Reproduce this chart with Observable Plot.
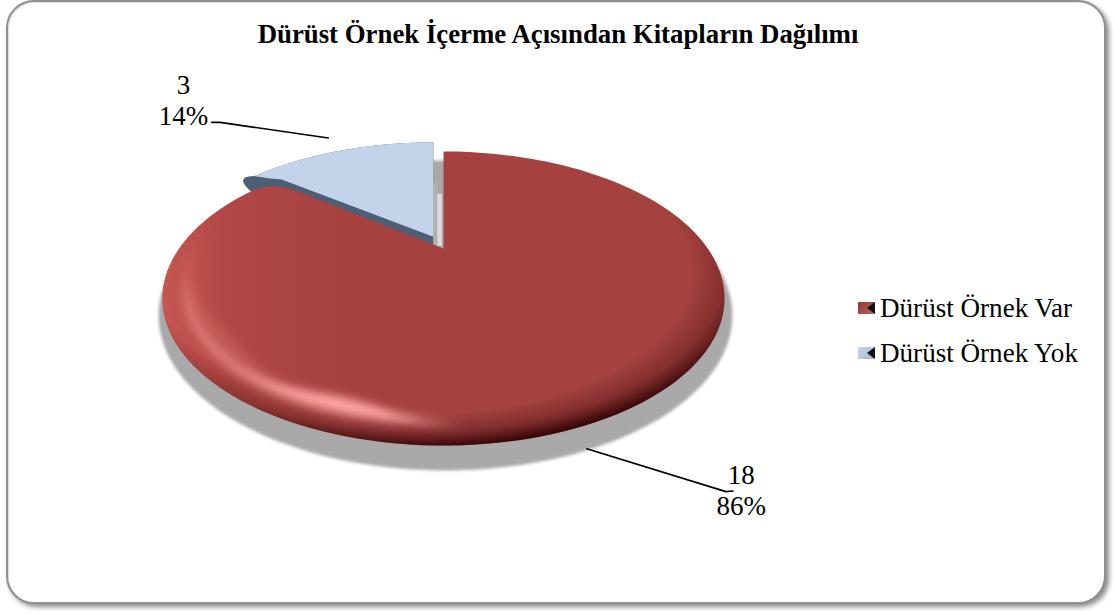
<!DOCTYPE html>
<html lang="tr">
<head>
<meta charset="utf-8">
<script src="https://cdn.jsdelivr.net/npm/d3@7"></script>
<script src="https://cdn.jsdelivr.net/npm/@observablehq/plot@0.6"></script>
<style>
html,body{margin:0;padding:0;background:#fff;font-family:"Liberation Serif",serif;color:#000}
#stage{position:relative;width:1114px;height:614px;overflow:hidden}
#frame{position:absolute;left:6px;top:0;width:1096px;height:600px;border:2px solid #8f8f8f;border-radius:28px;box-shadow:3px 3px 5px #8a8a8a, inset 1px 1px 1px #ddd;background:#fff}
#title{position:absolute;width:1114px;top:19px;text-align:center;font-weight:bold;font-size:26.8px;line-height:30px;left:1px}
#chart{position:absolute;left:0;top:0}
#legend{position:absolute;left:858px;top:292px;font-size:27.1px;line-height:32px}
#legend .row{display:flex;align-items:center;height:32px;margin-bottom:13px;white-space:nowrap}
#legend .sw{width:17px;height:12px;margin-right:5px;position:relative;flex:none}
#legend .sw::after{content:"";position:absolute;right:0;top:0;border-style:solid;border-width:6px 8px 6px 0;border-color:transparent #111 transparent transparent}
</style>
</head>
<body>
<div id="stage">
  <div id="frame"></div>
  <div id="chart"></div>
  <div id="title"></div>
  <div id="legend"></div>
</div>
<script>
const titleText = "Dürüst Örnek İçerme Açısından Kitapların Dağılımı";
const categories = ["Dürüst Örnek Var", "Dürüst Örnek Yok"];
const counts = [18, 3];
const percents = ["86%", "14%"];
const colors = ["#a5423f", "#c3d4ea"];

const total = d3.sum(counts);
const redSweep = 2 * Math.PI * counts[0] / total;
const blueSweep = 2 * Math.PI * counts[1] / total;

// perspective projection of a flat disc onto the chart's unit coordinates
const k = 0.34, flat = Math.sqrt(1 - k * k);
function project(theta, r = 1, dx = 0, dy = 0) {
  const u = r * Math.sin(theta), v = r * Math.cos(theta), w = 1 + k * v;
  return {x: u / w * flat + dx, y: v / w + dy};
}
const arcPts = (a, b, n = 160, r = 1, dx = 0, dy = 0) =>
  d3.range(n + 1).map(i => project(a + (b - a) * i / n, r, dx, dy));
const quad = (s, c, e) => d3.range(1, 16).map(i => {
  const m = i / 16, n = 1 - m;
  return {x: n*n*s.x + 2*n*m*c.x + m*m*e.x, y: n*n*s.y + 2*n*m*c.y + m*m*e.y};
});

// red slice: clockwise from the top, its far edge meets the arc in a soft corner
function redSlice() {
  const delta = 0.12, t = 0.14, apex = {x: 0, y: 0};
  const arc = arcPts(0, redSweep - delta);
  const c = project(redSweep);
  const e = {x: c.x * (1 - t), y: c.y * (1 - t)};
  return [apex, ...arc, ...quad(arc[arc.length - 1], c, e), e, apex];
}
// blue slice, pulled out of the disc; its edge keeps the true angle and eases into the arc
const blueDx = -0.036, blueDy = 0.07, blueLip = 0.05;
const blueCorner = project(-blueSweep, 1, blueDx, blueDy);
const blueArc = arcPts(-blueSweep - blueLip, 0, 160, 1, blueDx, blueDy);
function blueSlice() {
  const apex = {x: blueDx, y: blueDy + 0.02}, t = 0.11;
  const e = {x: blueCorner.x + (apex.x - blueCorner.x) * t, y: blueCorner.y + (apex.y - blueCorner.y) * t};
  const ctrl = {x: blueCorner.x, y: blueCorner.y - 0.04};
  return [apex, e, ...quad(e, ctrl, blueArc[0]), ...blueArc, apex];
}
// dark lip under the blue slice: wraps round the tip, the rest is hidden by the red slice
function blueRim() {
  const apex = {x: blueDx, y: 0};
  const low = {x: blueCorner.x - 0.01, y: blueCorner.y - 0.2};
  const ctrl = {x: blueCorner.x - 0.12, y: blueCorner.y - 0.03};
  return [apex, low, ...quad(low, ctrl, blueArc[0]), ...blueArc, apex];
}

const redPts = redSlice();
const bluePts = blueSlice();
const bluePtsRim = blueRim();
// drop shadow: the same disc outline, slightly larger and lower
const shadowPts = arcPts(0, 2 * Math.PI, 240).map(p => ({x: p.x * 1.021 + 0.007, y: (p.y + 0.3846) * 1.054 - 0.515}));
const sliverA = [{x:-0.036,y:0.03},{x:-0.036,y:0.5},{x:-0.022,y:0.5},{x:-0.022,y:0.03}];
const sliverB = [{x:-0.022,y:0.02},{x:-0.022,y:0.42},{x:-0.006,y:0.42},{x:-0.006,y:0.02}];

// soft highlights along the lower left rim, tapering to nothing at both ends
function band(a, b, rOut, base, gain, peakAt, width) {
  const n = 60;
  const outer = d3.range(n + 1).map(i => project(a + (b - a) * i / n, rOut));
  const inner = d3.range(n + 1).map(i => {
    const f = i / n, peak = Math.exp(-Math.pow((f - peakAt) / width, 2));
    return project(a + (b - a) * f, rOut - (base + gain * peak) * Math.sin(Math.PI * f));
  }).reverse();
  return [...outer, ...inner];
}
const glow = band(Math.PI * 0.98, Math.PI * 1.45, 0.925, 0.012, 0.075, 0.2, 0.17);
const wash = band(Math.PI * 1.03, Math.PI * 1.55, 0.945, 0.03, 0.06, 0.45, 0.3);

// leader lines and label anchors, in the chart's unit coordinates
const leaders = [
  [{x:1.03,y:-1.865},{x:1.005,y:-1.87},{x:0.51,y:-1.54}],
  [{x:-0.825,y:0.97},{x:-0.795,y:0.97},{x:-0.41,y:0.85}]
];
const labels = [
  {x:1.06, y:-1.745, text:String(counts[0])},
  {x:1.06, y:-1.98, text:percents[0]},
  {x:-0.925, y:1.255, text:String(counts[1])},
  {x:-0.925, y:1.02, text:percents[1]}
];

function defs() {
  const d = d3.create("svg:defs");
  const g1 = d.append("linearGradient").attr("id","redLeft").attr("x1",0).attr("x2",1).attr("y1",0).attr("y2",0);
  [[0,"#cc5a55",0.85],[0.12,"#c0504d",0.45],[0.36,"#b04a47",0]].forEach(s=>g1.append("stop").attr("offset",s[0]).attr("stop-color",s[1]).attr("stop-opacity",s[2]));
  const g2 = d.append("radialGradient").attr("id","redRim").attr("cx",0.46).attr("cy",0.41).attr("r",0.6);
  [[0.8,"#3c0a0a",0],[0.9,"#4a1010",0.35],[0.97,"#3a0808",0.85],[1,"#300505",1]].forEach(s=>g2.append("stop").attr("offset",s[0]).attr("stop-color",s[1]).attr("stop-opacity",s[2]));
  d.append("filter").attr("id","soft").attr("x","-30%").attr("y","-60%").attr("width","160%").attr("height","220%")
    .append("feGaussianBlur").attr("stdDeviation",5);
  d.append("filter").attr("id","softEdge").attr("x","-5%").attr("y","-5%").attr("width","110%").attr("height","110%")
    .append("feGaussianBlur").attr("stdDeviation",1.5);
  d.append("clipPath").attr("id","redClip").append("path").attr("id","redClipPath");
  return d.node();
}

const chart = Plot.plot({
  width: 1114, height: 614,
  margin: 0,
  style: {background: "transparent", overflow: "visible"},
  x: {domain: [-1, 1], range: [162, 724], axis: null},
  y: {domain: [0.746, -1.515], range: [151, 445], axis: null},
  marks: [
    defs,
    Plot.line(shadowPts, {x:"x", y:"y", fill:"#a9a9a9", stroke:"none", ariaDescription:"shadow"}),
    Plot.line(bluePtsRim, {x:"x", y:"y", fill:"#4c5f75", stroke:"none"}),
    Plot.line(sliverA, {x:"x", y:"y", fill:"#b2b2b2", stroke:"none"}),
    Plot.line(sliverB, {x:"x", y:"y", fill:"#dcdcdc", stroke:"none"}),
    Plot.line(bluePts, {x:"x", y:"y", fill:colors[1], stroke:"none"}),
    Plot.line(redPts, {x:"x", y:"y", fill:colors[0], stroke:"none", ariaDescription:"red"}),
    Plot.line(redPts, {x:"x", y:"y", fill:"url(#redLeft)", stroke:"none"}),
    Plot.line(redPts, {x:"x", y:"y", fill:"url(#redRim)", stroke:"none"}),
    Plot.line(wash, {x:"x", y:"y", fill:"#d8706c", fillOpacity:0.4, stroke:"none", ariaDescription:"wash"}),
    Plot.line(glow, {x:"x", y:"y", fill:"#ffa5a3", stroke:"none", ariaDescription:"glow"}),
    ...leaders.map(l => Plot.line(l, {x:"x", y:"y", stroke:"#000", strokeWidth:1.7})),
    Plot.text(labels, {x:"x", y:"y", text:"text", fontSize:27, fontFamily:"'Liberation Serif', serif", fill:"#000", textAnchor:"middle"})
  ]
});
document.getElementById("chart").append(chart);

// blur the highlights and the shadow edge, keep the highlights inside the red slice
const redPath = chart.querySelector('[aria-description="red"] path');
chart.querySelector("#redClipPath").setAttribute("d", redPath.getAttribute("d"));
for (const name of ["glow", "wash"]) {
  const g = chart.querySelector(`[aria-description="${name}"]`);
  g.setAttribute("clip-path", "url(#redClip)");
  g.querySelector("path").setAttribute("filter", "url(#soft)");
}
chart.querySelector('[aria-description="shadow"] path').setAttribute("filter", "url(#softEdge)");

document.getElementById("title").textContent = titleText;
const swatches = ["linear-gradient(135deg,#8f3a38,#c0605c)", "linear-gradient(135deg,#c9d8ea,#9fb4d0)"];
const legend = d3.select("#legend");
categories.forEach((c, i) => {
  const row = legend.append("div").attr("class","row");
  row.append("span").attr("class","sw").style("background", swatches[i]);
  row.append("span").text(c);
});
</script>
</body>
</html>
